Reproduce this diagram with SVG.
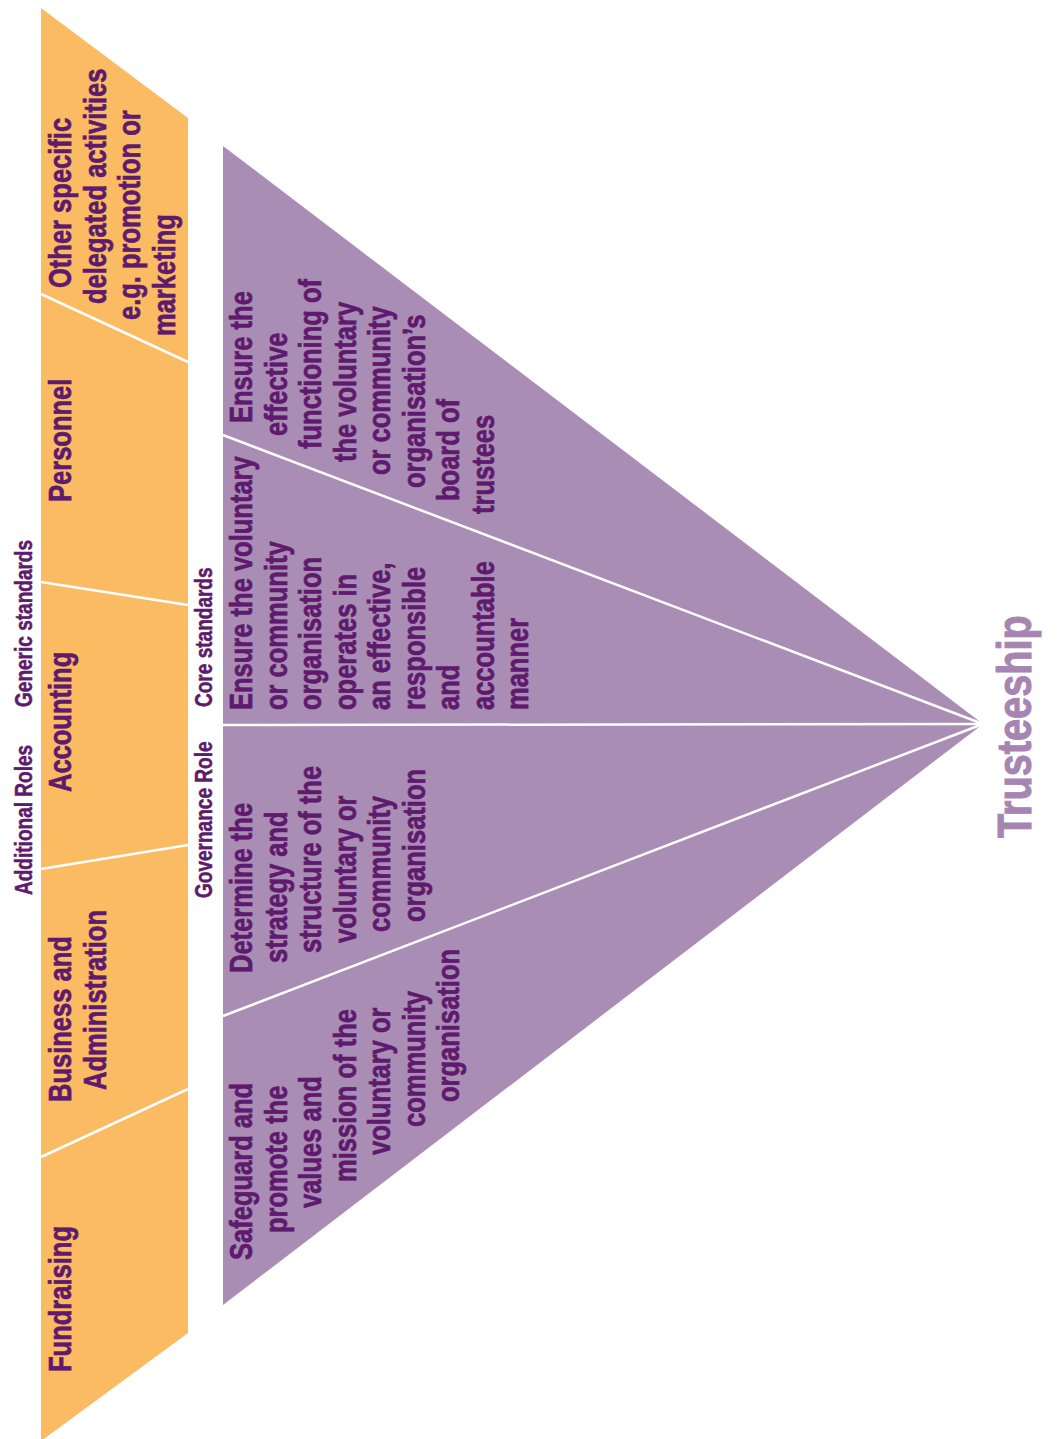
<svg xmlns="http://www.w3.org/2000/svg" width="1059" height="1439" viewBox="0 0 1059 1439">
<style>
.t{font-family:"Liberation Sans",Arial,sans-serif;font-weight:bold;fill:#5E1A6C;stroke:#5E1A6C;stroke-width:0.7px;font-size:31.5px}
.s{font-size:23.5px;stroke-width:0.5px}
.title{font-size:49px;fill:#A685B2;stroke:#A685B2;stroke-width:1px}
.div{stroke:#FFFFFF;stroke-width:2.5;fill:none}
.org{fill:#FBBB63}
.pur{fill:#A98DB5}
</style>
<rect width="1059" height="1439" fill="#FFFFFF"/>
<g id="orange-band">
<polygon class="org" points="41,8 188,118 188,1333 41,1441"/>
</g>
<g id="purple-triangle">
<polygon class="pur" points="223,146 983,724 223,1305"/>
</g>
<g id="connectors">
<line class="div" x1="41" y1="294" x2="188" y2="362"/>
<line class="div" x1="41" y1="582" x2="188" y2="605"/>
<line class="div" x1="41" y1="869" x2="188" y2="845"/>
<line class="div" x1="41" y1="1157" x2="188" y2="1089"/>
<line class="div" x1="223" y1="435" x2="983" y2="724"/>
<line class="div" x1="223" y1="725" x2="983" y2="724"/>
<line class="div" x1="223" y1="1016" x2="983" y2="724"/>
</g>
<g id="labels">
<text class="t s" transform="translate(31.5,895) rotate(-90) scale(0.81,1)">Additional Roles</text>
<text class="t s" transform="translate(31.5,707) rotate(-90) scale(0.81,1)">Generic standards</text>
<text class="t s" transform="translate(212,707) rotate(-90) scale(0.81,1)">Core standards</text>
<text class="t s" transform="translate(212,898) rotate(-90) scale(0.81,1)">Governance Role</text>
</g>
<g id="other-specific">
<text class="t" transform="translate(71,288) rotate(-90) scale(0.81,1)">Other specific</text>
<text class="t" transform="translate(105.5,304) rotate(-90) scale(0.81,1)">delegated activities</text>
<text class="t" transform="translate(140,320) rotate(-90) scale(0.81,1)">e.g. promotion or</text>
<text class="t" transform="translate(174.5,336) rotate(-90) scale(0.81,1)">marketing</text>
</g>
<g id="personnel">
<text class="t" transform="translate(71,502) rotate(-90) scale(0.81,1)">Personnel</text>
</g>
<g id="accounting">
<text class="t" transform="translate(71,792) rotate(-90) scale(0.81,1)">Accounting</text>
</g>
<g id="business">
<text class="t" transform="translate(71,1102) rotate(-90) scale(0.81,1)">Business and</text>
<text class="t" transform="translate(105.5,1090) rotate(-90) scale(0.81,1)">Administration</text>
</g>
<g id="fundraising">
<text class="t" transform="translate(71,1372) rotate(-90) scale(0.81,1)">Fundraising</text>
</g>
<g id="ensure-board">
<text class="t" transform="translate(252,423) rotate(-90) scale(0.81,1)">Ensure the</text>
<text class="t" transform="translate(286.5,436) rotate(-90) scale(0.81,1)">effective</text>
<text class="t" transform="translate(321,449) rotate(-90) scale(0.81,1)">functioning of</text>
<text class="t" transform="translate(355.5,462) rotate(-90) scale(0.81,1)">the voluntary</text>
<text class="t" transform="translate(390,475) rotate(-90) scale(0.81,1)">or community</text>
<text class="t" transform="translate(424.5,488) rotate(-90) scale(0.81,1)">organisation’s</text>
<text class="t" transform="translate(459,501) rotate(-90) scale(0.81,1)">board of</text>
<text class="t" transform="translate(493.5,514) rotate(-90) scale(0.81,1)">trustees</text>
</g>
<g id="ensure-manner">
<text class="t" transform="translate(252,710) rotate(-90) scale(0.81,1)">Ensure the voluntary</text>
<text class="t" transform="translate(286.5,710) rotate(-90) scale(0.81,1)">or community</text>
<text class="t" transform="translate(321,710) rotate(-90) scale(0.81,1)">organisation</text>
<text class="t" transform="translate(355.5,710) rotate(-90) scale(0.81,1)">operates in</text>
<text class="t" transform="translate(390,710) rotate(-90) scale(0.81,1)">an effective,</text>
<text class="t" transform="translate(424.5,710) rotate(-90) scale(0.81,1)">responsible</text>
<text class="t" transform="translate(459,710) rotate(-90) scale(0.81,1)">and</text>
<text class="t" transform="translate(493.5,710) rotate(-90) scale(0.81,1)">accountable</text>
<text class="t" transform="translate(528,710) rotate(-90) scale(0.81,1)">manner</text>
</g>
<g id="determine">
<text class="t" transform="translate(252,973) rotate(-90) scale(0.81,1)">Determine the</text>
<text class="t" transform="translate(286.5,963) rotate(-90) scale(0.81,1)">strategy and</text>
<text class="t" transform="translate(321,953) rotate(-90) scale(0.81,1)">structure of the</text>
<text class="t" transform="translate(355.5,943) rotate(-90) scale(0.81,1)">voluntary or</text>
<text class="t" transform="translate(390,932) rotate(-90) scale(0.81,1)">community</text>
<text class="t" transform="translate(424.5,922) rotate(-90) scale(0.81,1)">organisation</text>
</g>
<g id="safeguard">
<text class="t" transform="translate(252,1260) rotate(-90) scale(0.81,1)">Safeguard and</text>
<text class="t" transform="translate(286.5,1233) rotate(-90) scale(0.81,1)">promote the</text>
<text class="t" transform="translate(321,1208) rotate(-90) scale(0.81,1)">values and</text>
<text class="t" transform="translate(355.5,1182) rotate(-90) scale(0.81,1)">mission of the</text>
<text class="t" transform="translate(390,1155) rotate(-90) scale(0.81,1)">voluntary or</text>
<text class="t" transform="translate(424.5,1127) rotate(-90) scale(0.81,1)">community</text>
<text class="t" transform="translate(459,1102) rotate(-90) scale(0.81,1)">organisation</text>
</g>
<g id="trusteeship">
<text class="t title" transform="translate(1031,838) rotate(-90) scale(0.81,1)">Trusteeship</text>
</g>
</svg>
